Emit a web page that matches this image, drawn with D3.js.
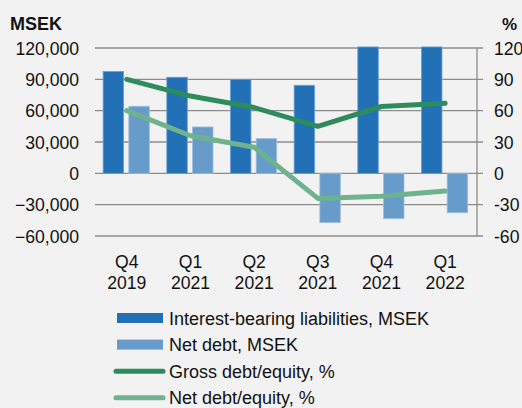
<!DOCTYPE html>
<html>
<head>
<meta charset="utf-8">
<script src="https://cdn.jsdelivr.net/npm/d3@7"></script>
<style>
  html, body { margin: 0; padding: 0; background: #f2f2f2; }
  svg { display: block; font-family: "Liberation Sans", Arial, sans-serif; }
</style>
</head>
<body>
<svg id="chart" width="522" height="408"></svg>
<script>
// data
const quarters = [["Q4", "2019"], ["Q1", "2021"], ["Q2", "2021"], ["Q3", "2021"], ["Q4", "2021"], ["Q1", "2022"]];
const interestBearing = [97500, 92000, 90000, 84300, 121000, 121000];
const netDebt = [64200, 44400, 33200, -47200, -43400, -37700];
const grossDebtEquity = [90, 74, 63, 45, 64, 67];
const netDebtEquity = [60, 36, 25, -24, -22, -17];
const leftTicks = [120000, 90000, 60000, 30000, 0, -30000, -60000];
const rightTicks = [120, 90, 60, 30, 0, -30, -60];

const colors = {
  gross: "#2270b5",
  grossEdge: "#6d9fd4",
  net: "#669bca",
  netEdge: "#9dbfe0",
  grossLine: "#2e8b5c",
  netLine: "#6eb28e",
  grid: "#8c8c8c",
  text: "#111"
};
const fontSize = 17.6;

const svg = d3.select("#chart");
const plot = { left: 95, right: 477, top: 48, bottom: 236 };

const x = d3.scaleBand().domain(d3.range(quarters.length)).range([plot.left, plot.right]);
const yL = d3.scaleLinear().domain([-60000, 120000]).range([plot.bottom, plot.top]);
const yR = d3.scaleLinear().domain([-60, 120]).range([plot.bottom, plot.top]);

// gridlines (with small tick stubs past the right axis)
svg.append("g")
  .selectAll("line")
  .data(leftTicks)
  .join("line")
  .attr("x1", plot.left).attr("x2", plot.right + 6)
  .attr("y1", d => yL(d)).attr("y2", d => yL(d))
  .attr("stroke", colors.grid)
  .attr("stroke-width", 1.3);

// right axis line
svg.append("line")
  .attr("x1", plot.right).attr("x2", plot.right)
  .attr("y1", plot.top).attr("y2", plot.bottom)
  .attr("stroke", colors.grid)
  .attr("stroke-width", 1.3);

// left tick labels
svg.append("g")
  .selectAll("text")
  .data(leftTicks)
  .join("text")
  .attr("x", 79)
  .attr("y", d => yL(d) + 6.5)
  .attr("text-anchor", "end")
  .attr("font-size", fontSize)
  .attr("fill", colors.text)
  .text(d => d3.format(",")(d));

// right tick labels
svg.append("g")
  .selectAll("text")
  .data(rightTicks)
  .join("text")
  .attr("x", 494)
  .attr("y", d => yR(d) + 6.5)
  .attr("font-size", fontSize)
  .attr("fill", colors.text)
  .text(d => d);

// axis titles
svg.append("text").attr("x", 10).attr("y", 30)
  .attr("font-size", 18).attr("font-weight", "bold").attr("fill", colors.text).text("MSEK");
svg.append("text").attr("x", 517).attr("y", 30).attr("text-anchor", "end")
  .attr("font-size", 17).attr("font-weight", "bold").attr("fill", colors.text).text("%");

// bars
const barW = 20.5, gap = 5.2;
const bars = svg.append("g");
bars.selectAll("rect.gross")
  .data(interestBearing)
  .join("rect")
  .classed("gross", true)
  .attr("x", (d, i) => x(i) + x.bandwidth() / 2 - 0.6 - gap / 2 - barW)
  .attr("width", barW)
  .attr("y", d => Math.min(yL(d), yL(0)))
  .attr("height", d => Math.abs(yL(d) - yL(0)))
  .attr("fill", colors.gross)
  .attr("stroke", colors.grossEdge)
  .attr("stroke-width", 0.8);

bars.selectAll("rect.net")
  .data(netDebt)
  .join("rect")
  .classed("net", true)
  .attr("x", (d, i) => x(i) + x.bandwidth() / 2 - 0.6 + gap / 2)
  .attr("width", barW)
  .attr("y", d => Math.min(yL(d), yL(0)))
  .attr("height", d => Math.abs(yL(d) - yL(0)))
  .attr("fill", colors.net)
  .attr("stroke", colors.netEdge)
  .attr("stroke-width", 0.8);

// lines
const cx = i => x(i) + x.bandwidth() / 2;
const line = d3.line().x((d, i) => cx(i)).y(d => yR(d));

svg.append("path")
  .datum(grossDebtEquity)
  .attr("d", line)
  .attr("fill", "none")
  .attr("stroke", colors.grossLine)
  .attr("stroke-width", 5)
  .attr("stroke-linecap", "round")
  .attr("stroke-linejoin", "round");

svg.append("path")
  .datum(netDebtEquity)
  .attr("d", line)
  .attr("fill", "none")
  .attr("stroke", colors.netLine)
  .attr("stroke-width", 5)
  .attr("stroke-linecap", "round")
  .attr("stroke-linejoin", "round");

// category labels
const cats = svg.append("g")
  .selectAll("text")
  .data(quarters)
  .join("text")
  .attr("text-anchor", "middle")
  .attr("font-size", fontSize)
  .attr("fill", colors.text);
cats.append("tspan").attr("x", (d, i) => cx(i)).attr("y", 268).text(d => d[0]);
cats.append("tspan").attr("x", (d, i) => cx(i)).attr("y", 289).text(d => d[1]);

// legend
const legendItems = [
  { label: "Interest-bearing liabilities, MSEK", color: colors.gross, type: "bar" },
  { label: "Net debt, MSEK", color: colors.net, type: "bar" },
  { label: "Gross debt/equity, %", color: colors.grossLine, type: "line" },
  { label: "Net debt/equity, %", color: colors.netLine, type: "line" }
];
const legend = svg.append("g")
  .selectAll("g")
  .data(legendItems)
  .join("g")
  .attr("transform", (d, i) => `translate(0, ${318 + i * 26.6})`);

legend.filter(d => d.type === "bar")
  .append("rect")
  .attr("x", 117).attr("y", -5).attr("width", 46).attr("height", 10)
  .attr("fill", d => d.color);

legend.filter(d => d.type === "line")
  .append("line")
  .attr("x1", 116).attr("x2", 163).attr("y1", 0).attr("y2", 0)
  .attr("stroke", d => d.color)
  .attr("stroke-width", 5)
  .attr("stroke-linecap", "round");

legend.append("text")
  .attr("x", 169).attr("y", 6.5)
  .attr("font-size", 18)
  .attr("fill", colors.text)
  .text(d => d.label);
</script>
</body>
</html>
